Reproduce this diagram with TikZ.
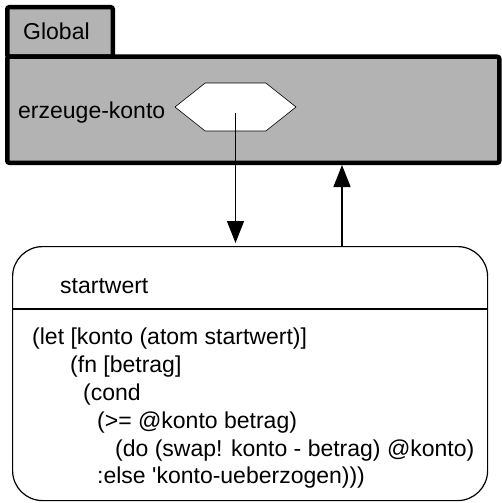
\documentclass[tikz,border=0pt]{standalone}
\usepackage{fontspec}
\setmainfont{Liberation Sans}
\usetikzlibrary{arrows.meta,shapes.symbols}
\definecolor{globalgray}{RGB}{179,179,179}
\begin{document}
\begin{tikzpicture}[x=1pt, y=-1pt,
        package/.style={draw, line width=4.5pt, fill=globalgray,
                        rounded corners=2pt, inner sep=0pt},
        label/.style={anchor=base west, inner sep=0pt,
                      font=\fontsize{23}{28}\selectfont},
        codeline/.style={label},
        link/.style={line width=1.4pt, -{Triangle[length=22pt, width=17pt]}},
    ]
    \useasboundingbox (0,0) rectangle (501,503);

    % package with tab
    \node[package, minimum width=105.5pt, minimum height=49.5pt,
          anchor=north west] (tab) at (5,5) {};
    \node[package, minimum width=492pt, minimum height=106pt,
          anchor=north west] (global) at (5,54.5) {};
    \node[label] (globalname) at (23,40) {Global};

    \node[label] (fnname) at (18,118) {erzeuge-konto};
    \node[draw, fill=white, line width=0.6pt, shape=signal,
          signal to=west and east, signal pointer angle=77,
          minimum width=121pt, minimum height=48pt, inner sep=0pt]
        (hex) at (235.5,107) {};

    % closure
    \node[draw, line width=1.2pt, rounded corners=30pt,
          minimum width=475pt, minimum height=254pt,
          anchor=north west] (closure) at (12,246) {};
    \draw[line width=1.2pt] (closure.west |- 0,309) -- (closure.east |- 0,309);
    \node[label] (startwert) at (60,293) {startwert};

    \node[codeline] (code1) at (32,344) {(let [konto (atom startwert)]};
    \node[codeline] (code2) at (70,372) {(fn [betrag]};
    \node[codeline] (code3) at (83,400) {(cond};
    \node[codeline] (code4) at (97,428) {(>= @konto betrag)};
    \node[codeline] (code5) at (115,456) {(do (swap! konto - betrag) @konto)};
    \node[codeline] (code6) at (97,483) {:else \textquotesingle konto-ueberzogen)))};

    % arrows
    \draw[link] ([yshift=-6pt]hex.center) -- ([yshift=3pt]hex.center |- closure.north);
    \draw[link] (closure.north -| 342,0) -- (342,0 |- global.south);
\end{tikzpicture}
\end{document}
